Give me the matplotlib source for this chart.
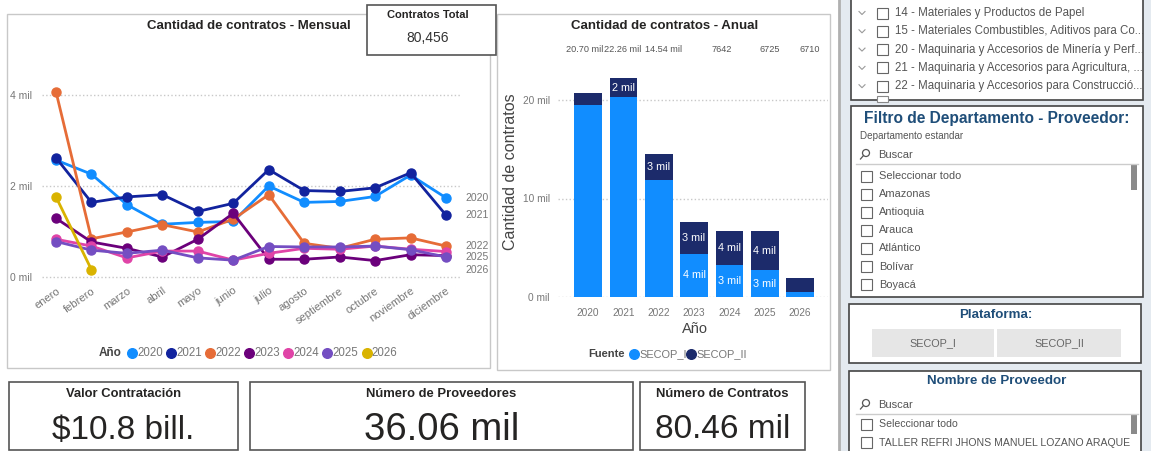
import matplotlib
matplotlib.use("Agg")
import matplotlib.pyplot as plt
from matplotlib.patches import Rectangle, Circle

plt.rcParams['font.family'] = ['Liberation Sans', 'DejaVu Sans']

# ---- datos (en miles de contratos) ----
meses = ["enero", "febrero", "marzo", "abril", "mayo", "junio", "julio",
         "agosto", "septiembre", "octubre", "noviembre", "diciembre"]
anios = ["2020", "2021", "2022", "2023", "2024", "2025", "2026"]
c2020 = [2.57, 2.26, 1.59, 1.16, 1.20, 1.22, 2.00, 1.64, 1.66, 1.77, 2.24, 1.74]
c2021 = [2.62, 1.64, 1.76, 1.81, 1.44, 1.62, 2.36, 1.90, 1.88, 1.96, 2.29, 1.36]
c2022 = [4.07, 0.84, 0.99, 1.15, 0.99, 1.27, 1.81, 0.74, 0.63, 0.83, 0.86, 0.68]
c2023 = [1.29, 0.77, 0.63, 0.44, 0.83, 1.40, 0.39, 0.39, 0.44, 0.36, 0.49, 0.47]
c2024 = [0.83, 0.68, 0.42, 0.57, 0.57, 0.37, 0.52, 0.63, 0.61, 0.68, 0.61, 0.56]
c2025 = [0.78, 0.59, 0.52, 0.59, 0.42, 0.37, 0.67, 0.66, 0.66, 0.68, 0.60, 0.44]
c2026 = [1.76, 0.16]
etiqueta_fin = ["2020", "2021", "2022", "2025", "2026"]   # las que Power BI muestra

secop_i = [19.50, 20.26, 11.84, 4.40, 3.20, 2.70, 0.50]
secop_ii = [1.20, 2.00, 2.70, 3.24, 3.525, 4.01, 1.40]
totales_txt = ["20.70 mil", "22.26 mil", "14.54 mil", "7642", "6725", "6710"]

contratos_total = "80,456"
tarjetas = [("Valor Contratación", "$10.8 bill."),
            ("Número de Proveedores", "36.06 mil"),
            ("Número de Contratos", "80.46 mil")]

segmentos = ["14 - Materiales y Productos de Papel",
             "15 - Materiales Combustibles, Aditivos para Co...",
             "20 - Maquinaria y Accesorios de Minería y Perf...",
             "21 - Maquinaria y Accesorios para Agricultura, ...",
             "22 - Maquinaria y Accesorios para Construcció..."]
departamentos = ["Seleccionar todo", "Amazonas", "Antioquia", "Arauca",
                 "Atlántico", "Bolívar", "Boyacá"]
proveedores = ["Seleccionar todo", "TALLER REFRI JHONS MANUEL LOZANO ARAQUE"]
plataformas = ["SECOP_I", "SECOP_II"]

colores = ["#118DFF", "#12239E", "#E66C37", "#6B007B", "#E044A7", "#744EC2", "#D9B300"]
col_i, col_ii = "#118DFF", "#1C2B6B"
gris = "#777777"
texto = "#252423"
azul_titulo = "#1F4E79"

W, H = 1151, 451
fig = plt.figure(figsize=(W / 100, H / 100), dpi=100)


def px_axes(l, t, r, b):
    return fig.add_axes([l / W, 1 - b / H, (r - l) / W, (b - t) / H])


bg = fig.add_axes([0, 0, 1, 1])
bg.set_xlim(0, W)
bg.set_ylim(H, 0)
bg.axis('off')


def caja(x0, y0, x1, y1, ec="#c8c8c8", lw=1.0, fc="none"):
    bg.add_patch(Rectangle((x0, y0), x1 - x0, y1 - y0, fc=fc, ec=ec, lw=lw))


def checkbox(x, y):
    bg.add_patch(Rectangle((x, y - 5.5), 11, 11, fc="white", ec="#666666", lw=0.8))


def lupa(x, y):
    bg.add_patch(Circle((x + 2, y - 2), 3.5, fc="none", ec="#555555", lw=0.9))
    bg.plot([x - 0.5, x - 3.5], [y + 0.5, y + 4], color="#555555", lw=0.9)


# ---- paneles ----
caja(7, 14, 490, 368)
caja(497, 14, 830, 370)
bg.text(249, 26, "Cantidad de contratos - Mensual", ha='center', va='center',
        fontsize=9.5, fontweight='bold', color=texto)
bg.text(665, 26, "Cantidad de contratos - Anual", ha='center', va='center',
        fontsize=9.5, fontweight='bold', color=texto)

caja(367, 5, 496, 55, ec="#555555", lw=1.2, fc="white")
bg.text(428, 15, "Contratos Total", ha='center', va='center', fontsize=8,
        fontweight='bold', color=texto)
bg.text(428, 38, contratos_total, ha='center', va='center', fontsize=10, color="#333333")

# ---- linea mensual ----
ax = px_axes(42, 80, 460, 280)
series = [c2020, c2021, c2022, c2023, c2024, c2025, c2026]
for nombre, vals, col in zip(anios, series, colores):
    ax.plot(range(len(vals)), vals, color=col, lw=2.0, marker='o', ms=6.5,
            clip_on=False, solid_joinstyle='round')
    if nombre in etiqueta_fin:
        ax.text(11.56, vals[-1], nombre, va='center', ha='left', fontsize=7.5,
                color=gris, clip_on=False)
ax.set_xlim(-0.395, 11.395)
ax.set_ylim((277 - 280) / 45.5, (277 - 80) / 45.5)
ax.set_yticks([0, 2, 4])
ax.set_yticklabels([f"{t} mil" for t in [0, 2, 4]])
ax.set_xticks(range(12))
ax.set_xticklabels(meses, rotation=35, ha='right', rotation_mode='anchor')
ax.tick_params(length=0, labelsize=7.5, colors=gris, pad=7)
ax.tick_params(axis='x', labelsize=8, pad=4)
ax.grid(axis='y', linestyle=':', color="#c8c8c8", lw=1)
ax.set_axisbelow(True)
for s in ax.spines.values():
    s.set_visible(False)
ax.patch.set_alpha(0)

bg.text(99, 353, "Año", ha='left', va='center', fontsize=8.5, fontweight='bold', color="#444444")
for k, (nombre, col) in enumerate(zip(anios, colores)):
    x0 = 132 + 39.1 * k
    bg.scatter([x0], [353], s=48, color=col, zorder=3)
    bg.text(x0 + 5, 353, nombre, ha='left', va='center', fontsize=8.3, color=gris)

# ---- barras anual ----
bx = px_axes(558, 60, 828, 297)
xs = list(range(len(anios)))
bx.bar(xs, secop_i, width=0.78, color=col_i)
bx.bar(xs, secop_ii, width=0.78, bottom=secop_i, color=col_ii)
for i in xs:
    if 1.9 <= secop_ii[i]:
        bx.text(i, secop_i[i] + secop_ii[i] / 2, f"{round(secop_ii[i])} mil",
                ha='center', va='center', color='white', fontsize=7.8)
    if 1.9 <= secop_i[i] < 5:
        bx.text(i, secop_i[i] / 2, f"{round(secop_i[i])} mil",
                ha='center', va='center', color='white', fontsize=7.8)
bx.set_xlim(-0.85, 6.79)
bx.set_ylim(0, (297 - 60) / 9.85)
bx.set_yticks([0, 10, 20])
bx.set_yticklabels([f"{t} mil" for t in [0, 10, 20]])
bx.set_xticks(xs)
bx.set_xticklabels(anios)
bx.tick_params(length=0, labelsize=7.3, colors=gris, pad=6)
bx.tick_params(axis='x', pad=8)
bx.grid(axis='y', linestyle=':', color="#c8c8c8", lw=1)
bx.set_axisbelow(True)
for s in bx.spines.values():
    s.set_visible(False)
bx.patch.set_alpha(0)

for txt, xp in zip(totales_txt, [585, 623, 664, 722, 770, 810]):
    bg.text(xp, 49, txt, ha='center', va='center', fontsize=6.6, color="#555555")
bg.text(511, 172, "Cantidad de contratos", rotation=90, ha='center', va='center',
        fontsize=11.5, color="#444444")
bg.text(695, 329, "Año", ha='center', va='center', fontsize=10.5, color="#444444")
bg.text(588, 354, "Fuente", ha='left', va='center', fontsize=8, fontweight='bold', color="#444444")
for xm, nombre, col in [(634, "SECOP_I", col_i), (691, "SECOP_II", col_ii)]:
    bg.scatter([xm], [354], s=48, color=col, zorder=3)
    bg.text(xm + 5, 354, nombre, ha='left', va='center', fontsize=7.9, color=gris)

# ---- tarjetas inferiores ----
for (titulo, valor), (x0, x1), tam in zip(tarjetas, [(9, 238), (250, 633), (640, 805)],
                                          [24, 27.5, 24]):
    caja(x0, 382, x1, 450, ec="#555555", lw=1.2)
    xc = (x0 + x1) / 2
    bg.text(xc, 394, titulo, ha='center', va='center', fontsize=9.4,
            fontweight='bold', color=texto)
    bg.text(xc, 430, valor, ha='center', va='center', fontsize=tam, color=texto)

# ---- panel derecho de filtros ----
bg.add_patch(Rectangle((840, 0), W - 840, H, fc="#e4eaf0", ec="none"))
bg.plot([839, 839], [0, H], color="#b0b0b0", lw=2)
caja(851, -2, 1143, 100, ec="#444444", lw=1.2, fc="white")
for k, txt in enumerate(segmentos):
    y = 13 + 18.3 * k
    bg.plot([859, 862, 865], [y - 1.5, y + 1.5, y - 1.5], color="#999999", lw=0.8)
    checkbox(877, y)
    bg.text(895, y, txt, ha='left', va='center', fontsize=8.3, color="#555555")
bg.add_patch(Rectangle((877, 96), 11, 6, fc="white", ec="#888888", lw=0.8))

caja(851, 106, 1143, 297, ec="#444444", lw=1.2, fc="white")
bg.text(997, 118, "Filtro de Departamento - Proveedor:", ha='center', va='center',
        fontsize=11.2, fontweight='bold', color=azul_titulo)
bg.text(860, 136, "Departamento estandar", ha='left', va='center', fontsize=7.1, color="#555555")
lupa(864, 155)
bg.text(878, 155, "Buscar", ha='left', va='center', fontsize=8, color="#555555")
bg.plot([856, 1138], [163.5, 163.5], color="#cccccc", lw=1)
for k, txt in enumerate(departamentos):
    y = 176 + 18.1 * k
    checkbox(861, y)
    bg.text(879, y, txt, ha='left', va='center', fontsize=7.9, color="#555555")
bg.add_patch(Rectangle((1131, 164), 6, 26, fc="#8a8a8a", ec="none"))

caja(849, 304, 1141, 363, ec="#444444", lw=1.2, fc="white")
bg.text(996, 315, "Plataforma:", ha='center', va='center', fontsize=9.6,
        fontweight='bold', color=azul_titulo)
for txt, (x0, x1) in zip(plataformas, [(872, 994), (997, 1121)]):
    bg.add_patch(Rectangle((x0, 329), x1 - x0, 28, fc="#e6e6e6", ec="none"))
    bg.text((x0 + x1) / 2, 343, txt, ha='center', va='center', fontsize=7.8, color="#666666")

caja(849, 371, 1141, 455, ec="#444444", lw=1.2, fc="white")
bg.text(997, 381, "Nombre de Proveedor", ha='center', va='center', fontsize=9.6,
        fontweight='bold', color=azul_titulo)
lupa(864, 405)
bg.text(878, 405, "Buscar", ha='left', va='center', fontsize=8, color="#555555")
bg.plot([856, 1138], [413.5, 413.5], color="#cccccc", lw=1)
for k, txt in enumerate(proveedores):
    y = 424 + 18.5 * k
    checkbox(861, y)
    bg.text(879, y, txt, ha='left', va='center', fontsize=7.6, color="#555555")
bg.add_patch(Rectangle((1131, 414), 6, 20, fc="#8a8a8a", ec="none"))

fig.savefig("out.png", dpi=100)
